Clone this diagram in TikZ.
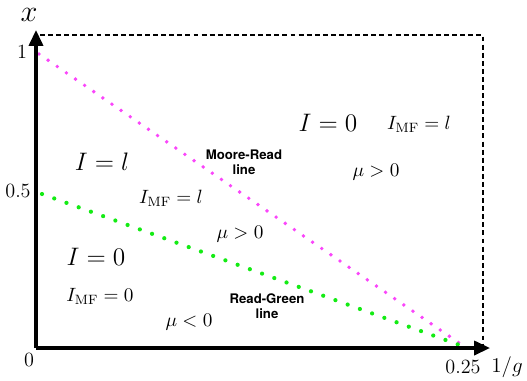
\documentclass[tikz,border=0pt]{standalone}
\usepackage{fontspec}
\setsansfont{TeX Gyre Heros}
\usetikzlibrary{arrows.meta}

\definecolor{lineMagenta}{RGB}{250,70,250}
\definecolor{lineGreen}{RGB}{20,235,20}

\begin{document}
\begin{tikzpicture}[
  x=0.02cm, y=-0.02cm,
  axis/.style={line width=1.8pt, -{Triangle[length=9pt, width=8pt]}},
  frame/.style={line width=0.8pt, dash pattern=on 2.8pt off 1.8pt},
  mrline/.style={lineMagenta, line width=2.2pt, line cap=round, dash pattern=on 0pt off 6.3pt},
  rgline/.style={lineGreen, line width=2.4pt, line cap=round, dash pattern=on 0pt off 7.4pt},
  tick/.style={font=\fontsize{11.5}{13}\selectfont, inner sep=1pt},
  big/.style={font=\fontsize{15}{18}\selectfont},
  small/.style={font=\fontsize{11}{13}\selectfont},
  linelabel/.style={font=\sffamily\bfseries\fontsize{7.5}{8.5}\selectfont, align=center}
]
\useasboundingbox (0,0) rectangle (527,380);

% Corner points
\coordinate (origin) at (36,348);
\coordinate (ytop) at (36,30);
\coordinate (xend) at (490,348);
\coordinate (tl) at (40,35);
\coordinate (tr) at (483,35);
\coordinate (br) at (483,348);
\coordinate (mrstart) at (39,54);
\coordinate (rgstart) at (42,194);
\coordinate (gc) at (465,347);

% Dashed frame
\draw[frame] (tl) -- (tr) -- (br);

% Dotted lines
\draw[mrline] (mrstart) -- (gc);
\draw[rgline] (rgstart) -- (gc);

% Axes
\draw[axis] (origin) -- (ytop);
\draw[axis] (origin) -- (xend);

% Axis labels
\node[font=\fontsize{17}{20}\selectfont, inner sep=0pt] (xlabel) at (29,15) {$x$};
\node[font=\fontsize{13}{15}\selectfont, anchor=base] (glabel) at (507,372) {$1/g$};

% Ticks
\node[tick] (t1) at (22,52) {1};
\node[tick] (t05) at (18,191) {0.5};
\node[tick] (t0) at (29,360) {0};
\node[tick] (t025) at (463,367) {0.25};

% Regions below the Read-Green line
\node[big] (izero) at (96,257) {$I=0$};
\node[small] (imfzero) at (100,296) {$I_{\mathrm{MF}}=0$};
\node[small] (muneg) at (189,322) {$\mu<0$};

% Region between the lines
\node[big] (il) at (102,162) {$I=l$};
\node[small] (imfl) at (171,198) {$I_{\mathrm{MF}}=l$};
\node[small] (mupos) at (240,234) {$\mu>0$};

% Region above the Moore-Read line
\node[big] (izerob) at (328,123) {$I=0$};
\node[small] (imflb) at (419,124) {$I_{\mathrm{MF}}=l$};
\node[small] (muposb) at (376,172) {$\mu>0$};

% Line names
\node[linelabel] (mrname) at (244,162) {Moore-Read\\line};
\node[linelabel] (rgname) at (267,306) {Read-Green\\line};

\end{tikzpicture}
\end{document}
